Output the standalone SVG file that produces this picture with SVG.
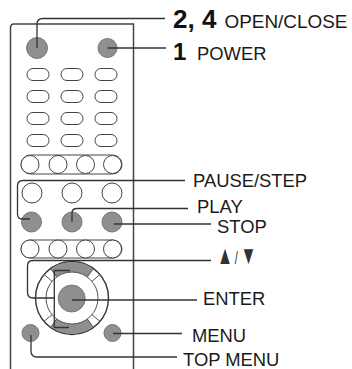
<svg xmlns="http://www.w3.org/2000/svg" width="352" height="369" viewBox="0 0 352 369">
<style>
text{font-family:"Liberation Sans",Arial,sans-serif;font-size:18.4px;fill:#1a1a1a}
.b{font-weight:bold;fill:#111}
.o{fill:#fff;stroke:#444;stroke-width:1}
.g{fill:#8f8f8f;stroke:#777;stroke-width:1}
.l{fill:none;stroke:#333;stroke-width:1.3}
.k{fill:none;stroke:#444;stroke-width:1.5}
</style>
<rect width="352" height="369" fill="#fff"/>
<g id="remote">
<path class="k" d="M10.500 369V28Q10.500 24 14 24H133.500V369"/>
<g id="numeric-keys">
<rect class="o" x="27" y="68.500" width="22" height="12" rx="6"/><rect class="o" x="61" y="68.500" width="22" height="12" rx="6"/><rect class="o" x="95" y="68.500" width="22" height="12" rx="6"/>
<rect class="o" x="27" y="90.500" width="22" height="12" rx="6"/><rect class="o" x="61" y="90.500" width="22" height="12" rx="6"/><rect class="o" x="95" y="90.500" width="22" height="12" rx="6"/>
<rect class="o" x="27" y="112.500" width="22" height="12" rx="6"/><rect class="o" x="61" y="112.500" width="22" height="12" rx="6"/><rect class="o" x="95" y="112.500" width="22" height="12" rx="6"/>
<rect class="o" x="27" y="134.500" width="22" height="12" rx="6"/><rect class="o" x="61" y="134.500" width="22" height="12" rx="6"/><rect class="o" x="95" y="134.500" width="22" height="12" rx="6"/>
</g>
<g id="colour-keys-1">
<rect class="o" x="21" y="155" width="101" height="19" rx="9.500"/>
<circle class="o" cx="30" cy="164.500" r="9"/><circle class="o" cx="58" cy="164.500" r="9"/><circle class="o" cx="85.500" cy="164.500" r="9"/><circle class="o" cx="112.500" cy="164.500" r="9"/>
</g>
<g id="transport-top">
<circle class="o" cx="32" cy="193" r="10"/><circle class="o" cx="72" cy="193" r="10"/><circle class="o" cx="112" cy="193" r="10"/>
</g>
<g id="colour-keys-2">
<rect class="o" x="21" y="240" width="101" height="18" rx="9"/>
<circle class="o" cx="30" cy="249" r="9"/><circle class="o" cx="58" cy="249" r="9"/><circle class="o" cx="85.500" cy="249" r="9"/><circle class="o" cx="112.500" cy="249" r="9"/>
</g>
</g>
<g id="open-close-button"><circle class="g" cx="37" cy="48" r="10.500"/></g>
<g id="power-button"><circle class="g" cx="107.500" cy="48" r="9.500"/></g>
<g id="pause-button"><circle class="g" cx="31.500" cy="222" r="10"/></g>
<g id="play-button"><circle class="g" cx="72" cy="222" r="10"/></g>
<g id="stop-button"><circle class="g" cx="112" cy="222" r="10"/></g>
<g id="dial">
<circle fill="#fff" stroke="#333" stroke-width="1.400" cx="72" cy="298" r="36.500"/>
<path fill="#8f8f8f" d="M50.800 268.900A36 36 0 0 1 93.200 268.900L87.300 277A26 26 0 0 0 56.700 277Z"/>
<path fill="#8f8f8f" d="M50.800 327.100A36 36 0 0 0 93.200 327.100L87.300 319A26 26 0 0 1 56.700 319Z"/>
<circle fill="none" stroke="#555" cx="72" cy="298" r="26"/>
<path stroke="#555" fill="none" d="M50.800 268.900L56.700 277M44.400 274.900L52.100 281.300M93.200 268.900L87.300 277M99.600 274.900L91.900 281.300M50.800 327.100L56.700 319M44.400 321.100L52.100 314.700M93.200 327.100L87.300 319M99.600 321.100L91.900 314.700"/>
<circle class="g" cx="71.700" cy="298.500" r="13.500"/>
</g>
<g id="top-menu-button"><circle class="g" cx="30.500" cy="333" r="8.500"/></g>
<g id="menu-button"><circle class="g" cx="112.500" cy="333" r="8.500"/></g>
<g id="connectors">
<path class="l" d="M37 48V24Q37 18.500 43 18.500H165"/>
<path class="l" d="M107.500 48H166"/>
<path class="l" d="M30 219H22Q17.500 219 17.500 214V186Q17.500 180.500 23 180.500H185"/>
<path class="l" d="M72 222V213Q72 208.500 77 208.500H188"/>
<path class="l" d="M114 224H211"/>
<path class="l" d="M211 260.500H33Q27.500 260.500 27.500 266V292Q27.500 298 33 298H54"/>
<path class="l" d="M70 270.500H54.300V327.500H69"/>
<path class="l" d="M72 300H197"/>
<path class="l" d="M113 333.500H182"/>
<path class="l" d="M31 335V351Q31 357 37 357H177"/>
</g>
<g id="labels">
<text x="173" y="28" class="b" style="font-size:26px">2, 4</text>
<text x="224.500" y="28" style="font-size:18.900px">OPEN/CLOSE</text>
<text x="173" y="60" class="b" style="font-size:24px">1</text>
<text x="197" y="60">POWER</text>
<text x="193" y="187">PAUSE/STEP</text>
<text x="197" y="212.500">PLAY</text>
<text x="217" y="233">STOP</text>
<text transform="translate(217 264) scale(.62 1)" style="font-size:26px;fill:#333">▲<tspan dx="3" style="font-size:18px">/</tspan><tspan dx="4">▼</tspan></text>
<text x="203" y="305">ENTER</text>
<text x="192" y="342">MENU</text>
<text x="183" y="366">TOP MENU</text>
</g>
</svg>
